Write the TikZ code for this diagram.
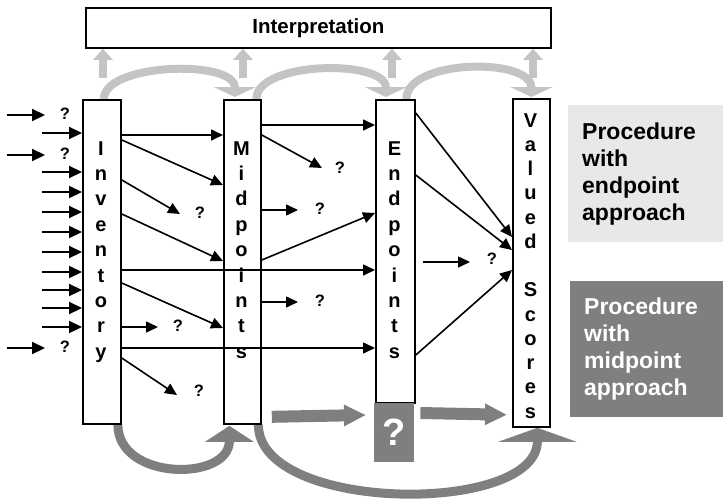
\documentclass[tikz,border=0pt]{standalone}
\usepackage{fontspec}
\setmainfont{Liberation Sans}
\usetikzlibrary{arrows.meta,calc,backgrounds}
\definecolor{softgray}{HTML}{C4C4C4}
\definecolor{midgray}{HTML}{7F7F7F}
\definecolor{panelgray}{HTML}{E8E8E8}
\begin{document}
\begin{tikzpicture}[x=1pt,y=-1pt,
  column/.style={draw, line width=1.8pt, inner sep=0pt, anchor=north west, fill=white},
  letter/.style={anchor=base, inner sep=0pt, font=\fontsize{20}{20}\selectfont\bfseries},
  qmark/.style={inner sep=0pt, font=\fontsize{16.5}{16.5}\selectfont\bfseries},
  link/.style={line width=1.6pt, -{Triangle[length=12pt,width=11pt]}},
  feed/.style={line width=2.2pt, -{Triangle[length=13pt,width=12pt]}},
  toparc/.style={softgray, line width=8pt, -{Triangle[length=10pt,width=42pt]}},
  upflow/.style={softgray, line width=8pt, -{Triangle[length=11pt,width=19pt]}},
  lowarc/.style={midgray, line width=9pt},
  flowright/.style={midgray, line width=12pt, -{Triangle[length=22pt,width=20pt]}},
  panel/.style={anchor=north west, inner xsep=14pt, inner ysep=0pt, align=left,
    font=\fontsize{23}{27}\selectfont\bfseries},
]
\useasboundingbox (0,0) rectangle (723,501);

% header box
\node[column, minimum width=465pt, minimum height=40pt,
      font=\fontsize{20.5}{20.5}\selectfont\bfseries] (interp) at (85,7) {Interpretation};

% the four columns
\node[column, minimum width=38pt, minimum height=324pt] (inv)  at (82,99)  {};
\node[column, minimum width=37pt, minimum height=324pt] (mid)  at (223,99) {};
\node[column, minimum width=39pt, minimum height=303pt] (endp) at (375,99) {};
\node[column, minimum width=37pt, minimum height=328pt] (val)  at (512,98) {};

% vertical lettering
\foreach \ch [count=\k from 0] in {I,n,v,e,n,t,o,r,y}
  \node[letter] (inv-\k) at (101,{155+25.4*\k}) {\ch};
\foreach \ch [count=\k from 0] in {M,i,d,p,o,i,n,t,s}
  \node[letter] (mid-\k) at (241.5,{155+25.4*\k}) {\ch};
\foreach \ch [count=\k from 0] in {E,n,d,p,o,i,n,t,s}
  \node[letter] (endp-\k) at (394.5,{155+25.4*\k}) {\ch};
\foreach \ch/\k in {V/0,a/1,l/2,u/3,e/4,d/5,S/7,c/8,o/9,r/10,e/11,s/12}
  \node[letter] (val-\k) at (530.5,{127+24.25*\k}) {\ch};

% side panels
\node[panel, fill=panelgray, text width=127pt, minimum height=137pt] (pend) at (568,105)
  {Procedure\\with\\endpoint\\approach};
\node[panel, fill=midgray, text=white, text width=125pt, minimum height=136pt] (pmid) at (570,281)
  {Procedure\\with\\midpoint\\approach};

% unknown step between midpoints and scores
\node[anchor=north west, fill=midgray, text=white, minimum width=40pt, minimum height=59pt,
      inner sep=0pt, font=\fontsize{38}{38}\selectfont\bfseries] (qbox) at (374,403) {?};

% question marks
\node[qmark] (qa) at (65,114) {?};
\node[qmark] (qb) at (65,154) {?};
\node[qmark] (qc) at (65,347) {?};
\node[qmark] (qd) at (200,213) {?};
\node[qmark] (qe) at (178,326) {?};
\node[qmark] (qf) at (199,391) {?};
\node[qmark] (qg) at (340,168) {?};
\node[qmark] (qh) at (320,209) {?};
\node[qmark] (qi) at (320,301) {?};
\node[qmark] (qj) at (492,259) {?};

% grey flows behind the columns
\begin{pgfonlayer}{background}
  \foreach \x [count=\i] in {103,243,392,533} {
    \coordinate (up\i) at (\x,78);
    \draw[upflow] (up\i) -- (up\i |- interp.south);
  }
  \draw[toparc] ($(inv.north)+(2,0)$) .. controls +(0,-36) and +(0,-38) .. ($(mid.north)+(-7.5,-2)$);
  \draw[toparc] ($(mid.north)+(14,0)$) .. controls +(0,-38) and +(0,-38) .. ($(endp.north)+(-9.5,-2)$);
  \draw[toparc] ($(endp.north)+(11,0)$) .. controls +(0,-40) and +(0,-40) .. ($(val.north)+(0,-1)$);
  \draw[lowarc, -{Triangle[length=16pt,width=48pt]}]
    ($(inv.south)+(16,0)$) .. controls +(0,56) and +(0,56) .. ($(mid.south)+(-13,1)$);
  \draw[lowarc, -{Triangle[length=14pt,width=78pt]}]
    ($(mid.south)+(16,0)$) .. controls +(0,88) and +(0,88) .. ($(val.south)+(6,0)$);
\end{pgfonlayer}

% thick grey arrows along the bottom
\coordinate (fr1) at ($(mid.south east)+(10,-8)$);
\draw[flowright] (fr1) -- ($(qbox.north west)+(-8,12)$);
\coordinate (fr2) at ($(qbox.north east)+(6,10)$);
\draw[flowright] (fr2) -- ($(val.south west)+(-5,-13)$);

% inputs to the inventory
\foreach \dy in {34,73,93,113,133,153,173,191,209,228} {
  \coordinate (src\dy) at ($(inv.north west)+(-40,\dy)$);
  \draw[feed] (src\dy) -- ($(inv.north west)+(0,\dy)$);
}
\foreach \y [count=\i] in {115,155,348} {
  \coordinate (lost\i) at (7,\y);
  \coordinate (lostend\i) at (45,\y);
  \draw[feed] (lost\i) -- (lostend\i);
}

% inventory outputs
\coordinate (t3) at (180,214);
\coordinate (t7) at (158,327);
\coordinate (t9) at (177,395);
\draw[link] ($(inv.north east)+(0,36)$)  -- ($(mid.north west)+(0,36)$);
\draw[link] ($(inv.north east)+(0,41)$)  -- ($(mid.north west)+(0,86)$);
\draw[link] ($(inv.north east)+(0,81)$)  -- (t3);
\draw[link] ($(inv.north east)+(0,115)$) -- ($(mid.north west)+(0,162)$);
\draw[link] ($(inv.north east)+(0,171)$) -- ($(endp.north west)+(0,171)$);
\draw[link] ($(inv.north east)+(0,184)$) -- ($(mid.north west)+(0,229)$);
\draw[link] ($(inv.north east)+(0,228)$) -- (t7);
\draw[link] ($(inv.north east)+(0,249)$) -- ($(endp.north west)+(0,249)$);
\draw[link] ($(inv.north east)+(0,259)$) -- (t9);

% midpoint outputs
\coordinate (m2) at (322,168);
\coordinate (m3) at (298,210);
\coordinate (m5) at (298,302);
\draw[link] ($(mid.north east)+(0,26)$)  -- ($(endp.north west)+(0,26)$);
\draw[link] ($(mid.north east)+(0,36)$)  -- (m2);
\draw[link] ($(mid.north east)+(0,111)$) -- (m3);
\draw[link] ($(mid.north east)+(0,161)$) -- ($(endp.north west)+(0,114)$);
\draw[link] ($(mid.north east)+(0,203)$) -- (m5);

% endpoint outputs
\draw[link] ($(endp.north east)+(0,14)$)  -- ($(val.north west)+(0,139)$);
\draw[link] ($(endp.north east)+(0,76)$)  -- ($(val.north west)+(0,152)$);
\draw[link] ($(endp.north east)+(0,256)$) -- ($(val.north west)+(0,172)$);
\coordinate (e4a) at (423,262);
\coordinate (e4b) at (470,262);
\draw[link] (e4a) -- (e4b);
\end{tikzpicture}
\end{document}
